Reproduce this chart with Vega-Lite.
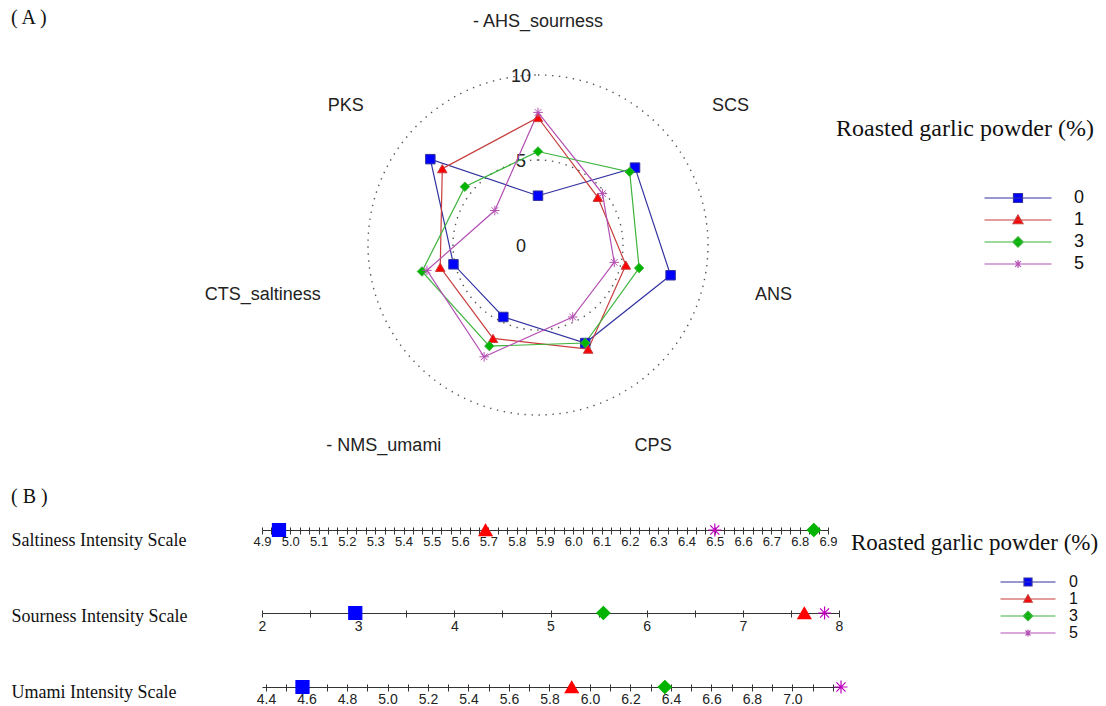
{
  "$schema": "https://vega.github.io/schema/vega-lite/v6.json",
  "background": "white",
  "padding": {"left": 10, "top": 0, "right": 0, "bottom": 0},
  "config": {
    "view": {"stroke": null},
    "font": "Liberation Sans",
    "title": {"font": "Liberation Serif", "fontSize": 20, "fontWeight": "normal", "anchor": "start", "color": "#111"}
  },
  "datasets": {
    "radar": [
      {"series": "0", "attr": "AHS", "idx": 0, "value": 2.9},
      {"series": "0", "attr": "SCS", "idx": 1, "value": 7.3},
      {"series": "0", "attr": "ANS", "idx": 2, "value": 8.0},
      {"series": "0", "attr": "CPS", "idx": 3, "value": 6.4},
      {"series": "0", "attr": "NMS", "idx": 4, "value": 4.7},
      {"series": "0", "attr": "CTS", "idx": 5, "value": 5.1},
      {"series": "0", "attr": "PKS", "idx": 6, "value": 8.1},
      {"series": "1", "attr": "AHS", "idx": 0, "value": 7.5},
      {"series": "1", "attr": "SCS", "idx": 1, "value": 4.5},
      {"series": "1", "attr": "ANS", "idx": 2, "value": 5.3},
      {"series": "1", "attr": "CPS", "idx": 3, "value": 6.8},
      {"series": "1", "attr": "NMS", "idx": 4, "value": 6.1},
      {"series": "1", "attr": "CTS", "idx": 5, "value": 5.9},
      {"series": "1", "attr": "PKS", "idx": 6, "value": 7.2},
      {"series": "3", "attr": "AHS", "idx": 0, "value": 5.5},
      {"series": "3", "attr": "SCS", "idx": 1, "value": 6.9},
      {"series": "3", "attr": "ANS", "idx": 2, "value": 6.1},
      {"series": "3", "attr": "CPS", "idx": 3, "value": 6.4},
      {"series": "3", "attr": "NMS", "idx": 4, "value": 6.6},
      {"series": "3", "attr": "CTS", "idx": 5, "value": 7.0},
      {"series": "3", "attr": "PKS", "idx": 6, "value": 5.5},
      {"series": "5", "attr": "AHS", "idx": 0, "value": 7.8},
      {"series": "5", "attr": "SCS", "idx": 1, "value": 4.85},
      {"series": "5", "attr": "ANS", "idx": 2, "value": 4.6},
      {"series": "5", "attr": "CPS", "idx": 3, "value": 4.7},
      {"series": "5", "attr": "NMS", "idx": 4, "value": 7.3},
      {"series": "5", "attr": "CTS", "idx": 5, "value": 6.7},
      {"series": "5", "attr": "PKS", "idx": 6, "value": 3.25}
    ],
    "labels": [
      {"attr": "- AHS_sourness", "idx": 0},
      {"attr": "SCS", "idx": 1},
      {"attr": "ANS", "idx": 2},
      {"attr": "CPS", "idx": 3},
      {"attr": "- NMS_umami", "idx": 4},
      {"attr": "CTS_saltiness", "idx": 5},
      {"attr": "PKS", "idx": 6}
    ],
    "rings": [{"r": 5}, {"r": 10}],
    "ringlabels": [{"r": 0}, {"r": 5}, {"r": 10}],
    "intensity": [
      {"measure": "Saltiness Intensity Scale", "series": "0", "value": 4.96},
      {"measure": "Saltiness Intensity Scale", "series": "1", "value": 5.69},
      {"measure": "Saltiness Intensity Scale", "series": "3", "value": 6.85},
      {"measure": "Saltiness Intensity Scale", "series": "5", "value": 6.5},
      {"measure": "Sourness Intensity Scale", "series": "0", "value": 2.97},
      {"measure": "Sourness Intensity Scale", "series": "1", "value": 7.64},
      {"measure": "Sourness Intensity Scale", "series": "3", "value": 5.55},
      {"measure": "Sourness Intensity Scale", "series": "5", "value": 7.85},
      {"measure": "Umami Intensity Scale", "series": "0", "value": 4.58},
      {"measure": "Umami Intensity Scale", "series": "1", "value": 5.91},
      {"measure": "Umami Intensity Scale", "series": "3", "value": 6.37},
      {"measure": "Umami Intensity Scale", "series": "5", "value": 7.24}
    ]
  },
  "spacing": 17,
  "resolve": {"scale": {"color": "independent", "fill": "independent", "shape": "independent", "stroke": "independent"}},
  "vconcat": [
    {
      "width": 837,
      "height": 470,
      "resolve": {"scale": {"color": "independent", "fill": "independent", "shape": "independent", "stroke": "independent"}},
      "layer": [
        {
          "data": {"name": "rings"},
          "mark": {"type": "arc", "theta": 0, "theta2": 6.2832, "fill": null, "fillOpacity": 0, "stroke": "#555", "strokeWidth": 1.4, "strokeDash": [1.4, 5.6]},
          "encoding": {
            "x": {"datum": 0, "type": "quantitative", "scale": {"domain": [-16.235, 33], "nice": false, "zero": false}, "axis": null},
            "y": {"datum": 0, "type": "quantitative", "scale": {"domain": [-13.235, 14.412], "nice": false, "zero": false}, "axis": null},
            "radius": {"field": "r", "type": "quantitative", "stack": null, "scale": {"type": "linear", "domain": [0, 10], "range": [0, 170]}}
          }
        },
        {
          "data": {"name": "ringlabels"},
          "mark": {"type": "text", "fontSize": 18, "color": "#222", "dy": 2},
          "encoding": {
            "x": {"datum": -1.0, "type": "quantitative"},
            "y": {"field": "r", "type": "quantitative"},
            "text": {"field": "r", "type": "quantitative"}
          }
        },
        {
          "data": {"name": "radar"},
          "transform": [
            {"calculate": "datum.value*sin(datum.idx*2*PI/7)", "as": "px"},
            {"calculate": "datum.value*cos(datum.idx*2*PI/7)", "as": "py"}
          ],
          "mark": {"type": "line", "interpolate": "linear-closed", "strokeWidth": 1.2},
          "encoding": {
            "x": {"field": "px", "type": "quantitative"},
            "y": {"field": "py", "type": "quantitative"},
            "order": {"field": "idx", "type": "quantitative"},
            "stroke": {"field": "series", "type": "nominal", "scale": {"domain": ["0", "1", "3", "5"], "range": ["#3333a0", "#c83c3c", "#3cb43c", "#b450b4"]}, "legend": null}
          }
        },
        {
          "data": {"name": "radar"},
          "transform": [
            {"calculate": "datum.value*sin(datum.idx*2*PI/7)", "as": "px"},
            {"calculate": "datum.value*cos(datum.idx*2*PI/7)", "as": "py"}
          ],
          "mark": {"type": "point", "filled": true, "opacity": 1, "size": 90, "strokeWidth": 1},
          "encoding": {
            "x": {"field": "px", "type": "quantitative"},
            "y": {"field": "py", "type": "quantitative"},
            "stroke": {"field": "series", "type": "nominal", "scale": {"domain": ["0", "1", "3", "5"], "range": ["#3333a0", "#c83c3c", "#3cb43c", "#b450b4"]}, "legend": null},
            "shape": {"field": "series", "type": "nominal", "scale": {"domain": ["0", "1", "3", "5"], "range": ["square", "triangle-up", "diamond", "M0,-1V1M-1,0H1M-0.7,-0.7L0.7,0.7M-0.7,0.7L0.7,-0.7"]}, "legend": null},
            "color": {"field": "series", "type": "nominal", "scale": {"domain": ["0", "1", "3", "5"], "range": ["#0000ff", "#ff0000", "#00b400", "#c000c0"]}, "legend": null}
          }
        },
        {
          "data": {"name": "radar"},
          "transform": [{"filter": "datum.value < 0"}],
          "mark": {"type": "point", "filled": true, "opacity": 1},
          "encoding": {
            "fill": {"field": "series", "type": "nominal", "scale": {"domain": ["0", "1", "3", "5"], "range": ["#0000ff", "#ff0000", "#00b400", "#c000c0"]},
              "legend": {"title": "Roasted garlic powder (%)", "orient": "none", "legendX": 574, "legendY": 117, "titleFont": "Liberation Serif", "titleFontSize": 24, "titleFontWeight": "normal", "titleColor": "#111", "titleLimit": 400, "titlePadding": 48, "labelFont": "Liberation Sans", "labelFontSize": 18, "labelColor": "#111", "symbolSize": 100, "symbolStrokeWidth": 1.2, "symbolOffset": 173, "labelOffset": 47, "rowPadding": 4}},
            "stroke": {"field": "series", "type": "nominal", "scale": {"domain": ["0", "1", "3", "5"], "range": ["#3333a0", "#c83c3c", "#3cb43c", "#b450b4"]},
              "legend": {"title": "Roasted garlic powder (%)", "orient": "none", "legendX": 574, "legendY": 117, "titleFont": "Liberation Serif", "titleFontSize": 24, "titleFontWeight": "normal", "titleColor": "#111", "titleLimit": 400, "titlePadding": 48, "labelFont": "Liberation Sans", "labelFontSize": 18, "labelColor": "#111", "symbolSize": 100, "symbolStrokeWidth": 1.2, "symbolOffset": 173, "labelOffset": 47, "rowPadding": 4}},
            "shape": {"field": "series", "type": "nominal", "scale": {"domain": ["0", "1", "3", "5"], "range": ["M-6.7,0H6.7M-0.9,-0.9H0.9V0.9H-0.9Z", "M-6.7,0H6.7M0,-1L1,0.75H-1Z", "M-6.7,0H6.7M0,-1.05L1.05,0L0,1.05L-1.05,0Z", "M-6.7,0H6.7M0,-0.8V0.8M-0.8,0H0.8M-0.57,-0.57L0.57,0.57M-0.57,0.57L0.57,-0.57"]},
              "legend": {"title": "Roasted garlic powder (%)", "orient": "none", "legendX": 574, "legendY": 117, "titleFont": "Liberation Serif", "titleFontSize": 24, "titleFontWeight": "normal", "titleColor": "#111", "titleLimit": 400, "titlePadding": 48, "labelFont": "Liberation Sans", "labelFontSize": 18, "labelColor": "#111", "symbolSize": 100, "symbolStrokeWidth": 1.2, "symbolOffset": 173, "labelOffset": 47, "rowPadding": 4}}
          }
        },
        {
          "data": {"name": "labels"},
          "transform": [
            {"calculate": "13.1*sin(datum.idx*2*PI/7)", "as": "lx"},
            {"calculate": "13.1*cos(datum.idx*2*PI/7)", "as": "ly"}
          ],
          "mark": {"type": "text", "fontSize": 18, "color": "#222", "baseline": "middle", "align": {"expr": "datum.idx == 0 ? 'center' : (datum.idx <= 3 ? 'left' : 'right')"}},
          "encoding": {
            "x": {"field": "lx", "type": "quantitative"},
            "y": {"field": "ly", "type": "quantitative"},
            "text": {"field": "attr", "type": "nominal"}
          }
        },
        {
          "data": {"values": [{"panel": "( A )"}]},
          "mark": {"type": "text", "font": "Liberation Serif", "fontSize": 20, "color": "#111", "align": "left", "baseline": "middle"},
          "encoding": {
            "x": {"datum": -31.0, "type": "quantitative"},
            "y": {"datum": 13.35, "type": "quantitative"},
            "text": {"field": "panel", "type": "nominal"}
          }
        }
      ]
    },
    {
      "title": {"text": "( B )"},
      "spacing": 54,
      "bounds": "flush",
      "resolve": {"scale": {"color": "independent", "fill": "independent", "shape": "independent", "stroke": "independent"}},
      "vconcat": [
        {
          "width": 566,
          "height": 38,
          "resolve": {"scale": {"x": "independent", "color": "independent", "fill": "independent", "shape": "independent", "stroke": "independent"}},
          "layer": [
            {
              "data": {"name": "intensity"},
              "transform": [{"filter": "datum.measure == 'Saltiness Intensity Scale'"}],
              "mark": {"type": "point", "filled": true, "opacity": 1, "size": 170, "strokeWidth": 1.2},
              "encoding": {
                "x": {"field": "value", "type": "quantitative", "scale": {"domain": [4.9, 6.9], "nice": false, "zero": false},
                  "axis": {"title": null, "grid": false, "orient": "bottom", "offset": -19, "labelFont": "Liberation Sans", "labelFontSize": 13, "labelColor": "#222", "tickColor": "#333", "domainColor": "#333", "tickSize": 4, "labelPadding": 1, "labelFlush": false, "labelOverlap": false,
                    "values": [4.9, 4.9333, 4.9667, 5, 5.0333, 5.0667, 5.1, 5.1333, 5.1667, 5.2, 5.2333, 5.2667, 5.3, 5.3333, 5.3667, 5.4, 5.4333, 5.4667, 5.5, 5.5333, 5.5667, 5.6, 5.6333, 5.6667, 5.7, 5.7333, 5.7667, 5.8, 5.8333, 5.8667, 5.9, 5.9333, 5.9667, 6, 6.0333, 6.0667, 6.1, 6.1333, 6.1667, 6.2, 6.2333, 6.2667, 6.3, 6.3333, 6.3667, 6.4, 6.4333, 6.4667, 6.5, 6.5333, 6.5667, 6.6, 6.6333, 6.6667, 6.7, 6.7333, 6.7667, 6.8, 6.8333, 6.8667, 6.9],
                    "labelExpr": "abs(datum.value*10 - round(datum.value*10)) < 0.01 ? format(datum.value, '.1f') : ''"}},
                "y": {"field": "measure", "type": "nominal", "axis": {"title": null, "domain": false, "ticks": false, "tickSize": 0, "labelAlign": "left", "labelBaseline": "middle", "labelPadding": 251, "labelOffset": 10, "labelFont": "Liberation Serif", "labelFontSize": 18, "labelColor": "#111", "labelLimit": 300}},
                "stroke": {"field": "series", "type": "nominal", "scale": {"domain": ["0", "1", "3", "5"], "range": ["#0000ff", "#ff0000", "#00b400", "#c000c0"]}, "legend": null},
                "shape": {"field": "series", "type": "nominal", "scale": {"domain": ["0", "1", "3", "5"], "range": ["square", "triangle-up", "diamond", "M0,-1V1M-1,0H1M-0.7,-0.7L0.7,0.7M-0.7,0.7L0.7,-0.7"]}, "legend": null},
                "color": {"field": "series", "type": "nominal", "scale": {"domain": ["0", "1", "3", "5"], "range": ["#0000ff", "#ff0000", "#00b400", "#c000c0"]}, "legend": null}
              }
            },
            {
              "data": {"name": "intensity"},
              "transform": [{"filter": "datum.value < 0"}],
              "mark": {"type": "point", "filled": true, "opacity": 1},
              "encoding": {
                "x": {"field": "value", "type": "quantitative", "scale": {"domain": [4.9, 6.9], "nice": false, "zero": false},
                  "axis": {"title": null, "grid": false, "orient": "top", "offset": -19, "domain": false, "labels": false, "tickColor": "#333", "tickSize": 3,
                    "values": [4.9, 4.9333, 4.9667, 5, 5.0333, 5.0667, 5.1, 5.1333, 5.1667, 5.2, 5.2333, 5.2667, 5.3, 5.3333, 5.3667, 5.4, 5.4333, 5.4667, 5.5, 5.5333, 5.5667, 5.6, 5.6333, 5.6667, 5.7, 5.7333, 5.7667, 5.8, 5.8333, 5.8667, 5.9, 5.9333, 5.9667, 6, 6.0333, 6.0667, 6.1, 6.1333, 6.1667, 6.2, 6.2333, 6.2667, 6.3, 6.3333, 6.3667, 6.4, 6.4333, 6.4667, 6.5, 6.5333, 6.5667, 6.6, 6.6333, 6.6667, 6.7, 6.7333, 6.7667, 6.8, 6.8333, 6.8667, 6.9]}},
                "fill": {"field": "series", "type": "nominal", "scale": {"domain": ["0", "1", "3", "5"], "range": ["#0000ff", "#ff0000", "#00b400", "#c000c0"]},
                  "legend": {"title": "Roasted garlic powder (%)", "orient": "none", "legendX": 589, "legendY": 21, "titleFont": "Liberation Serif", "titleFontSize": 23, "titleFontWeight": "normal", "titleColor": "#111", "titleLimit": 400, "titlePadding": 19, "labelFont": "Liberation Sans", "labelFontSize": 16, "labelColor": "#111", "symbolSize": 100, "symbolStrokeWidth": 1.2, "symbolOffset": 169, "labelOffset": 33, "rowPadding": 1}},
                "stroke": {"field": "series", "type": "nominal", "scale": {"domain": ["0", "1", "3", "5"], "range": ["#3333a0", "#c83c3c", "#3cb43c", "#b450b4"]},
                  "legend": {"title": "Roasted garlic powder (%)", "orient": "none", "legendX": 589, "legendY": 21, "titleFont": "Liberation Serif", "titleFontSize": 23, "titleFontWeight": "normal", "titleColor": "#111", "titleLimit": 400, "titlePadding": 19, "labelFont": "Liberation Sans", "labelFontSize": 16, "labelColor": "#111", "symbolSize": 100, "symbolStrokeWidth": 1.2, "symbolOffset": 169, "labelOffset": 33, "rowPadding": 1}},
                "shape": {"field": "series", "type": "nominal", "scale": {"domain": ["0", "1", "3", "5"], "range": ["M-5.5,0H5.5M-0.8,-0.8H0.8V0.8H-0.8Z", "M-5.5,0H5.5M0,-0.85L0.85,0.65H-0.85Z", "M-5.5,0H5.5M0,-0.95L0.95,0L0,0.95L-0.95,0Z", "M-5.5,0H5.5M0,-0.7V0.7M-0.7,0H0.7M-0.5,-0.5L0.5,0.5M-0.5,0.5L0.5,-0.5"]},
                  "legend": {"title": "Roasted garlic powder (%)", "orient": "none", "legendX": 589, "legendY": 21, "titleFont": "Liberation Serif", "titleFontSize": 23, "titleFontWeight": "normal", "titleColor": "#111", "titleLimit": 400, "titlePadding": 19, "labelFont": "Liberation Sans", "labelFontSize": 16, "labelColor": "#111", "symbolSize": 100, "symbolStrokeWidth": 1.2, "symbolOffset": 169, "labelOffset": 33, "rowPadding": 1}}
              }
            }
          ]
        },
        {
          "width": 577,
          "height": 20,
          "resolve": {"scale": {"x": "independent"}},
          "layer": [
            {
              "data": {"name": "intensity"},
              "transform": [{"filter": "datum.measure == 'Sourness Intensity Scale'"}],
              "mark": {"type": "point", "filled": true, "opacity": 1, "size": 170, "strokeWidth": 1.2},
              "encoding": {
                "x": {"field": "value", "type": "quantitative", "scale": {"domain": [2, 8], "nice": false, "zero": false},
                  "axis": {"title": null, "grid": false, "orient": "bottom", "offset": -10, "labelFont": "Liberation Sans", "labelFontSize": 14, "labelColor": "#222", "tickColor": "#333", "domainColor": "#333", "tickSize": 4, "labelPadding": 2, "labelFlush": false, "labelOverlap": false,
                    "values": [2, 2.5, 3, 3.5, 4, 4.5, 5, 5.5, 6, 6.5, 7, 7.5, 8],
                    "labelExpr": "datum.value % 1 == 0 ? format(datum.value, 'd') : ''"}},
                "y": {"field": "measure", "type": "nominal", "axis": {"title": null, "domain": false, "ticks": false, "tickSize": 0, "labelAlign": "left", "labelBaseline": "middle", "labelPadding": 251, "labelOffset": 3, "labelFont": "Liberation Serif", "labelFontSize": 18, "labelColor": "#111", "labelLimit": 300}},
                "stroke": {"field": "series", "type": "nominal", "scale": {"domain": ["0", "1", "3", "5"], "range": ["#0000ff", "#ff0000", "#00b400", "#c000c0"]}, "legend": null},
                "shape": {"field": "series", "type": "nominal", "scale": {"domain": ["0", "1", "3", "5"], "range": ["square", "triangle-up", "diamond", "M0,-1V1M-1,0H1M-0.7,-0.7L0.7,0.7M-0.7,0.7L0.7,-0.7"]}, "legend": null},
                "color": {"field": "series", "type": "nominal", "scale": {"domain": ["0", "1", "3", "5"], "range": ["#0000ff", "#ff0000", "#00b400", "#c000c0"]}, "legend": null}
              }
            },
            {
              "data": {"name": "intensity"},
              "transform": [{"filter": "datum.value < 0"}],
              "mark": {"type": "point", "opacity": 0},
              "encoding": {
                "x": {"field": "value", "type": "quantitative", "scale": {"domain": [2, 8], "nice": false, "zero": false},
                  "axis": {"title": null, "grid": false, "orient": "top", "offset": -10, "domain": false, "labels": false, "tickColor": "#333", "tickSize": 3,
                    "values": [2, 2.5, 3, 3.5, 4, 4.5, 5, 5.5, 6, 6.5, 7, 7.5, 8]}}
              }
            }
          ]
        },
        {
          "width": 579,
          "height": 20,
          "resolve": {"scale": {"x": "independent"}},
          "layer": [
            {
              "data": {"name": "intensity"},
              "transform": [{"filter": "datum.measure == 'Umami Intensity Scale'"}],
              "mark": {"type": "point", "filled": true, "opacity": 1, "size": 170, "strokeWidth": 1.2},
              "encoding": {
                "x": {"field": "value", "type": "quantitative", "scale": {"domain": [4.38, 7.24], "nice": false, "zero": false},
                  "axis": {"title": null, "grid": false, "orient": "bottom", "offset": -10, "labelFont": "Liberation Sans", "labelFontSize": 14, "labelColor": "#222", "tickColor": "#333", "domainColor": "#333", "tickSize": 4, "labelPadding": 1, "labelFlush": false, "labelOverlap": false,
                    "values": [4.4, 4.5, 4.6, 4.7, 4.8, 4.9, 5.0, 5.1, 5.2, 5.3, 5.4, 5.5, 5.6, 5.7, 5.8, 5.9, 6.0, 6.1, 6.2, 6.3, 6.4, 6.5, 6.6, 6.7, 6.8, 6.9, 7.0, 7.1, 7.2],
                    "labelExpr": "(round(datum.value*10) % 2 == 0 && datum.value < 7.1) ? format(datum.value, '.1f') : ''"}},
                "y": {"field": "measure", "type": "nominal", "axis": {"title": null, "domain": false, "ticks": false, "tickSize": 0, "labelAlign": "left", "labelBaseline": "middle", "labelPadding": 251, "labelOffset": 5, "labelFont": "Liberation Serif", "labelFontSize": 18, "labelColor": "#111", "labelLimit": 300}},
                "stroke": {"field": "series", "type": "nominal", "scale": {"domain": ["0", "1", "3", "5"], "range": ["#0000ff", "#ff0000", "#00b400", "#c000c0"]}, "legend": null},
                "shape": {"field": "series", "type": "nominal", "scale": {"domain": ["0", "1", "3", "5"], "range": ["square", "triangle-up", "diamond", "M0,-1V1M-1,0H1M-0.7,-0.7L0.7,0.7M-0.7,0.7L0.7,-0.7"]}, "legend": null},
                "color": {"field": "series", "type": "nominal", "scale": {"domain": ["0", "1", "3", "5"], "range": ["#0000ff", "#ff0000", "#00b400", "#c000c0"]}, "legend": null}
              }
            },
            {
              "data": {"name": "intensity"},
              "transform": [{"filter": "datum.value < 0"}],
              "mark": {"type": "point", "opacity": 0},
              "encoding": {
                "x": {"field": "value", "type": "quantitative", "scale": {"domain": [4.38, 7.24], "nice": false, "zero": false},
                  "axis": {"title": null, "grid": false, "orient": "top", "offset": -10, "domain": false, "labels": false, "tickColor": "#333", "tickSize": 3,
                    "values": [4.4, 4.5, 4.6, 4.7, 4.8, 4.9, 5.0, 5.1, 5.2, 5.3, 5.4, 5.5, 5.6, 5.7, 5.8, 5.9, 6.0, 6.1, 6.2, 6.3, 6.4, 6.5, 6.6, 6.7, 6.8, 6.9, 7.0, 7.1, 7.2]}}
              }
            }
          ]
        }
      ]
    }
  ]
}
